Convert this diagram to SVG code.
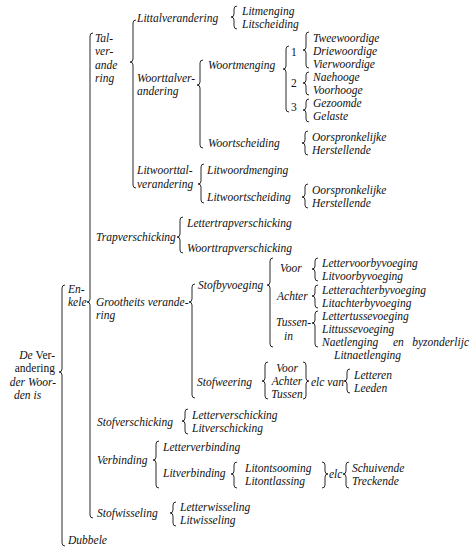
<svg xmlns="http://www.w3.org/2000/svg" width="470" height="558" viewBox="0 0 470 558">
<style>
text{font-family:"Liberation Serif","Times New Roman",serif;font-size:11.5px;font-style:italic;fill:#111}
.up{font-style:normal}
.br{fill:none;stroke:#2a2a2a;stroke-width:1}
</style>
<rect width="470" height="558" fill="#fff"/>
<g id="connectors">
<path class="br" d="M65,285 Q62,285 62,288 V369 Q62,372 59,372 Q62,372 62,375 V543 Q62,546 65,546"/>
<path class="br" d="M93,33 Q90,33 90,36 V299 Q90,302 87,302 Q90,302 90,305 V515 Q90,518 93,518"/>
<path class="br" d="M136,20 Q133,20 133,23 V59 Q133,62 130,62 Q133,62 133,65 V185 Q133,188 136,188"/>
<path class="br" d="M237,6 Q234,6 234,9 V14 Q234,17 231,17 Q234,17 234,20 V26 Q234,29 237,29"/>
<path class="br" d="M203,60 Q200,60 200,63 V82 Q200,85 197,85 Q200,85 200,88 V145 Q200,148 203,148"/>
<path class="br" d="M289,46 Q286,46 286,49 V66 Q286,69 283,69 Q286,69 286,72 V109 Q286,112 289,112"/>
<path class="br" d="M309,32 Q306,32 306,35 V47 Q306,50 303,50 Q306,50 306,53 V65 Q306,68 309,68"/>
<path class="br" d="M309,72 Q306,72 306,75 V80 Q306,83 303,83 Q306,83 306,86 V92 Q306,95 309,95"/>
<path class="br" d="M309,99 Q306,99 306,102 V107 Q306,110 303,110 Q306,110 306,113 V119 Q306,122 309,122"/>
<path class="br" d="M308,131 Q305,131 305,134 V140 Q305,143 302,143 Q305,143 305,146 V152 Q305,155 308,155"/>
<path class="br" d="M204,164 Q201,164 201,167 V181 Q201,184 198,184 Q201,184 201,187 V200 Q201,203 204,203"/>
<path class="br" d="M308,184 Q305,184 305,187 V194 Q305,197 302,197 Q305,197 305,200 V205 Q305,208 308,208"/>
<path class="br" d="M183,217 Q180,217 180,220 V234 Q180,237 177,237 Q180,237 180,240 V250 Q180,253 183,253"/>
<path class="br" d="M195,284 Q192,284 192,287 V299 Q192,302 189,302 Q192,302 192,305 V395 Q192,398 195,398"/>
<path class="br" d="M273,258 Q270,258 270,261 V282 Q270,285 267,285 Q270,285 270,288 V344 Q270,347 273,347"/>
<path class="br" d="M318,258 Q315,258 315,261 V266 Q315,269 312,269 Q315,269 315,272 V278 Q315,281 318,281"/>
<path class="br" d="M318,285 Q315,285 315,288 V293 Q315,296 312,296 Q315,296 315,299 V305 Q315,308 318,308"/>
<path class="br" d="M318,311 Q315,311 315,314 V320 Q315,323 312,323 Q315,323 315,326 V344 Q315,347 318,347"/>
<path class="br" d="M268,362 Q265,362 265,365 V378 Q265,381 262,381 Q265,381 265,384 V396 Q265,399 268,399"/>
<path class="br" d="M303,362 Q306,362 306,365 V378 Q306,381 309,381 Q306,381 306,384 V396 Q306,399 303,399"/>
<path class="br" d="M350,369 Q347,369 347,372 V378 Q347,381 344,381 Q347,381 347,384 V390 Q347,393 350,393"/>
<path class="br" d="M188,409 Q185,409 185,412 V418 Q185,421 182,421 Q185,421 185,424 V431 Q185,434 188,434"/>
<path class="br" d="M159,441 Q156,441 156,444 V457 Q156,460 153,460 Q156,460 156,463 V485 Q156,488 159,488"/>
<path class="br" d="M237,462 Q234,462 234,465 V471 Q234,474 231,474 Q234,474 234,477 V485 Q234,488 237,488"/>
<path class="br" d="M322,462 Q325,462 325,465 V471 Q325,474 328,474 Q325,474 325,477 V485 Q325,488 322,488"/>
<path class="br" d="M349,462 Q346,462 346,465 V471 Q346,474 343,474 Q346,474 346,477 V485 Q346,488 349,488"/>
<path class="br" d="M176,502 Q173,502 173,505 V510 Q173,513 170,513 Q173,513 173,516 V523 Q173,526 176,526"/>
</g>
<g id="root"><text x="55" y="359" text-anchor="end">De <tspan class="up">Ver-</tspan></text><text class="up" x="55" y="372" text-anchor="end">andering</text><text x="56" y="386" text-anchor="end">der Woor-</text><text x="14" y="399">den is</text></g>
<g id="enkele"><text x="68" y="293">En-</text><text x="68" y="306">kele</text></g>
<g id="dubbele"><text x="68" y="544">Dubbele</text></g>
<g id="talverandering"><text x="95" y="42">Tal-</text><text x="95" y="55">ver-</text><text x="95" y="69">ande</text><text x="95" y="82">ring</text></g>
<g id="littalverandering"><text x="137" y="22">Littalverandering</text></g>
<g id="litmenging"><text x="242" y="15">Litmenging</text><text x="242" y="28">Litscheiding</text></g>
<g id="woorttalverandering"><text x="137" y="82">Woorttalver-</text><text x="137" y="95">andering</text></g>
<g id="woortmenging"><text x="208" y="69">Woortmenging</text></g>
<g id="nums"><text class="up" x="291" y="56">1</text><text class="up" x="291" y="87">2</text><text class="up" x="291" y="111">3</text></g>
<g id="woordige"><text x="313" y="42">Tweewoordige</text><text x="313" y="55">Driewoordige</text><text x="313" y="68">Vierwoordige</text></g>
<g id="hooge"><text x="313" y="81">Naehooge</text><text x="313" y="94">Voorhooge</text></g>
<g id="gezoomde"><text x="313" y="107">Gezoomde</text><text x="313" y="120">Gelaste</text></g>
<g id="woortscheiding"><text x="208" y="147">Woortscheiding</text></g>
<g id="oorspr1"><text x="312" y="141">Oorspronkelijke</text><text x="312" y="154">Herstellende</text></g>
<g id="litwoorttal"><text x="137" y="174">Litwoorttal-</text><text x="137" y="188">verandering</text></g>
<g id="litwoordmenging"><text x="207" y="174">Litwoordmenging</text></g>
<g id="litwoortscheiding"><text x="207" y="201">Litwoortscheiding</text></g>
<g id="oorspr2"><text x="312" y="194">Oorspronkelijke</text><text x="312" y="207">Herstellende</text></g>
<g id="trap"><text x="96" y="241">Trapverschicking</text></g>
<g id="lettertrap"><text x="187" y="227">Lettertrapverschicking</text></g>
<g id="woorttrap"><text x="187" y="252">Woorttrapverschicking</text></g>
<g id="grootheits"><text x="96" y="306">Grootheits verande-</text><text x="96" y="319">ring</text></g>
<g id="stofbyvoeging"><text x="198" y="289">Stofbyvoeging</text></g>
<g id="voor"><text x="280" y="272">Voor</text></g>
<g id="achter"><text x="277" y="300">Achter</text></g>
<g id="tussenin"><text x="276" y="326">Tussen-</text><text x="284" y="340">in</text></g>
<g id="voorby"><text x="322" y="267">Lettervoorbyvoeging</text><text x="322" y="280">Litvoorbyvoeging</text></g>
<g id="achterby"><text x="322" y="294">Letterachterbyvoeging</text><text x="322" y="307">Litachterbyvoeging</text></g>
<g id="tusseby"><text x="322" y="320">Lettertussevoeging</text><text x="322" y="333">Littussevoeging</text><text y="346"><tspan x="322">Naetlenging</tspan><tspan x="393">en</tspan><tspan x="469" text-anchor="end">byzonderlijc</tspan></text><text x="334" y="359">Litnaetlenging</text></g>
<g id="stofweering"><text x="197" y="386">Stofweering</text></g>
<g id="vat" text-anchor="middle"><text x="287" y="372">Voor</text><text x="287" y="385">Achter</text><text x="287" y="398">Tussen</text></g>
<g id="elcvan"><text x="311" y="386">elc van</text></g>
<g id="letteren"><text x="354" y="379">Letteren</text><text x="354" y="392">Leeden</text></g>
<g id="stofverschicking"><text x="97" y="426">Stofverschicking</text></g>
<g id="verschicking"><text x="192" y="419">Letterverschicking</text><text x="192" y="432">Litverschicking</text></g>
<g id="verbinding"><text x="97" y="464">Verbinding</text></g>
<g id="letterverbinding"><text x="163" y="451">Letterverbinding</text></g>
<g id="litverbinding"><text x="163" y="477">Litverbinding</text></g>
<g id="litont"><text x="245" y="472">Litontsooming</text><text x="245" y="485">Litontlassing</text></g>
<g id="elc"><text x="329" y="478">elc</text></g>
<g id="schuivende"><text x="352" y="472">Schuivende</text><text x="352" y="485">Treckende</text></g>
<g id="stofwisseling"><text x="97" y="517">Stofwisseling</text></g>
<g id="wisseling"><text x="180" y="511">Letterwisseling</text><text x="180" y="524">Litwisseling</text></g>
</svg>
